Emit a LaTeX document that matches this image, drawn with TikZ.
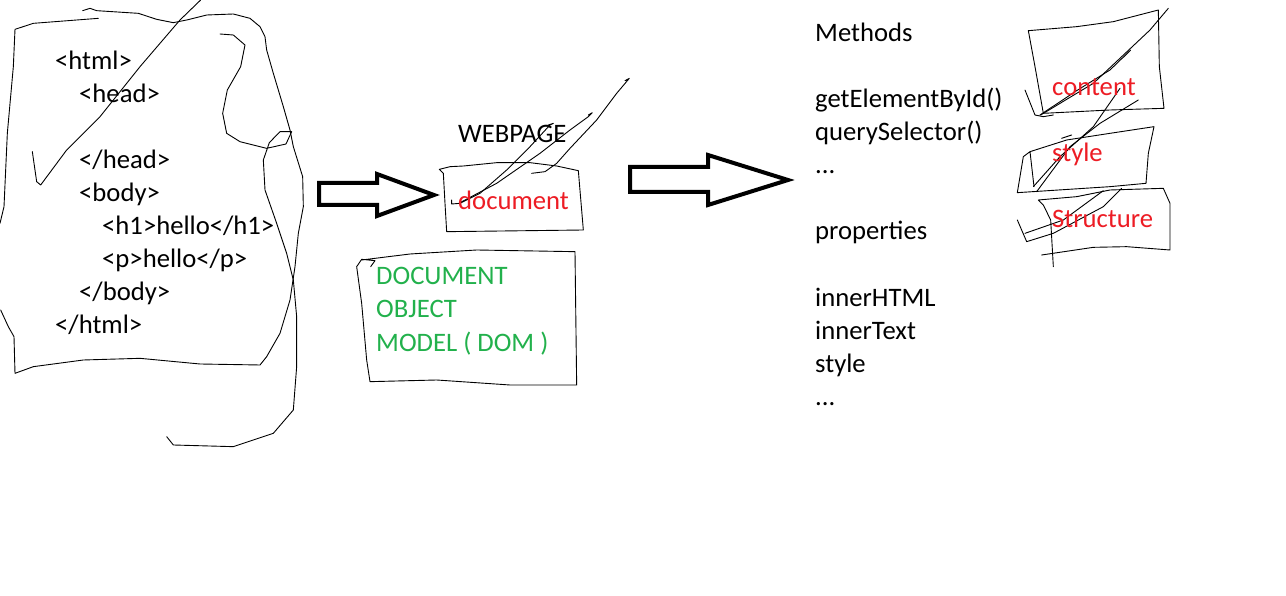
\documentclass[tikz,border=0pt]{standalone}
\usepackage{fontspec}
\setmainfont{Carlito}
\definecolor{pred}{RGB}{237,28,36}
\definecolor{pgreen}{RGB}{34,177,76}
\tikzset{
  txt/.style={anchor=base west, inner sep=0pt, font=\fontsize{26.67}{33}\selectfont},
  redtxt/.style={txt, text=pred},
  greentxt/.style={txt, text=pgreen},
  pen/.style={draw=black, line width=0.9pt, line join=round, line cap=round},
  fatarrow/.style={draw=black, line width=4pt, line join=miter, fill=white},
}
\begin{document}
\begin{tikzpicture}[x=1pt,y=-1pt]
\useasboundingbox (0,0) rectangle (1286,596);
\fill[white] (0,0) rectangle (1286,596);

% ---------- left HTML sheet (zoom coords /3) ----------
\begin{scope}[scale=1/3]
\draw[pen] (248,32) -- (270,25) -- (290,32) -- (415,40) -- (470,58) -- (520,68) -- (560,60) -- (620,45) -- (700,42) -- (750,55) -- (780,80) -- (795,110) -- (800,150) -- (820,220) -- (850,320) -- (870,390) -- (880,440) -- (908,530) -- (910,620) -- (895,700) -- (885,800) -- (870,900) -- (840,1000) -- (800,1070) -- (780,1095) -- (600,1092) -- (420,1075) -- (250,1080) -- (100,1100) -- (45,1120) -- (42,1010) -- (25,980) -- (2,930);
\draw[pen] (295,55) -- (100,70) -- (45,88) -- (40,200) -- (22,400) -- (12,620) -- (0,670);
\draw[pen] (660,102) -- (700,105) -- (735,135) -- (722,200) -- (682,270) -- (668,340) -- (680,400) -- (720,425) -- (800,445) -- (858,432) -- (875,395) -- (840,395) -- (808,428) -- (790,480) -- (795,570) -- (830,670) -- (860,760) -- (880,840) -- (890,950) -- (890,1100) -- (880,1230) -- (820,1300) -- (700,1340) -- (520,1335) -- (500,1310);
\draw[pen] (602,0) -- (540,60) -- (420,200) -- (300,350) -- (200,450) -- (122,555) -- (110,545) -- (97,455);
\end{scope}
\node[txt] (l1) at (55,70) {<html>};
\node[txt] (l2) at (79,103) {<head>};
\node[txt] (l3) at (79,169) {</head>};
\node[txt] (l4) at (79,202) {<body>};
\node[txt] (l5) at (102,235) {<h1>hello</h1>};
\node[txt] (l6) at (102,268) {<p>hello</p>};
\node[txt] (l7) at (79,301) {</body>};
\node[txt] (l8) at (55,334) {</html>};

% ---------- arrow 1 ----------
\draw[fatarrow] (319,183) -- (377,183) -- (377,174) -- (434,195) -- (377,216) -- (377,205) -- (319,205) -- cycle;

% ---------- middle ----------
\begin{scope}[shift={(430,60)}, scale=1/3]
\draw[pen] (28,328) -- (60,320) -- (100,318) -- (200,308) -- (300,308) -- (380,318) -- (445,332) -- (460,510) -- (50,515) -- (45,430) -- (40,340) -- cycle;
\draw[pen] (65,420) -- (65,432) -- (90,430);
\draw[pen] (90,430) -- (150,400) -- (230,330) -- (300,260) -- (360,195) -- (370,190) -- (355,195);
\draw[pen] (90,428) -- (200,370) -- (330,280) -- (420,210) -- (475,170) -- (487,158) -- (475,165);
\draw[pen] (305,340) -- (345,335) -- (380,310) -- (420,265) -- (500,180) -- (560,100) -- (598,55) -- (585,62);
\end{scope}
\begin{scope}[shift={(310,70)}, scale=1/3]
\draw[pen] (182,590) -- (195,572) -- (155,568) -- (140,590) -- (155,700) -- (170,870) -- (180,935) -- (380,930) -- (600,945) -- (800,945) -- (795,545) -- (500,540) -- (300,552) -- (155,570);
\end{scope}
\node[txt] (web) at (458,143) {WEBPAGE};
\node[redtxt] (doc) at (458,210) {document};
\node[greentxt] (d1) at (376,285) {DOCUMENT};
\node[greentxt] (d2) at (376,318) {OBJECT};
\node[greentxt] (d3) at (376,351) {MODEL ( DOM )};

% ---------- arrow 2 ----------
\draw[fatarrow] (630,167) -- (708,167) -- (708,155) -- (788,180) -- (708,205) -- (708,192) -- (630,192) -- cycle;

% ---------- methods / properties ----------
\node[txt] (m0) at (815,42) {Methods};
\node[txt] (m1) at (815,108) {getElementById()};
\node[txt] (m2) at (815,141) {querySelector()};
\node[txt] (m3) at (815,174) {...};
\node[txt] (p0) at (815,240) {properties};
\node[txt] (p1) at (815,306) {innerHTML};
\node[txt] (p2) at (815,339) {innerText};
\node[txt] (p3) at (815,372) {style};
\node[txt] (p4) at (815,405) {...};

% ---------- right boxes ----------
\begin{scope}[shift={(1010,0)}, scale=1/3]
\draw[pen] (55,92) -- (200,80) -- (310,65) -- (445,30) -- (448,200) -- (462,325) -- (300,330) -- (100,340) -- (75,200) -- cycle;
\draw[pen] (45,270) -- (75,345) -- (100,350) -- (130,345);
\draw[pen] (90,345) -- (200,272) -- (300,210) -- (362,150) -- (340,172);
\draw[pen] (92,345) -- (250,250) -- (420,90) -- (475,25);
\draw[pen] (60,455) -- (170,420) -- (300,400) -- (432,380) -- (415,460) -- (408,550) -- (300,560) -- (22,578) -- (40,470) -- (60,455) -- (72,560);
\draw[pen] (155,415) -- (185,405);
\draw[pen] (70,560) -- (150,470) -- (250,380) -- (330,265);
\draw[pen] (80,575) -- (180,440) -- (270,370) -- (385,300);
\draw[pen] (130,800) -- (122,660) -- (100,615) -- (85,600) -- (200,590) -- (300,570) -- (460,565) -- (480,610) -- (480,750) -- (350,740) -- (250,742) -- (95,765);
\draw[pen] (22,660) -- (50,725) -- (130,700) -- (280,620) -- (335,565);
\draw[pen] (45,700) -- (160,660) -- (280,572);
\end{scope}
\node[redtxt] (c1) at (1052,96) {content};
\node[redtxt] (c2) at (1052,162) {style};
\node[redtxt] (c3) at (1052,228) {Structure};
\end{tikzpicture}
\end{document}
